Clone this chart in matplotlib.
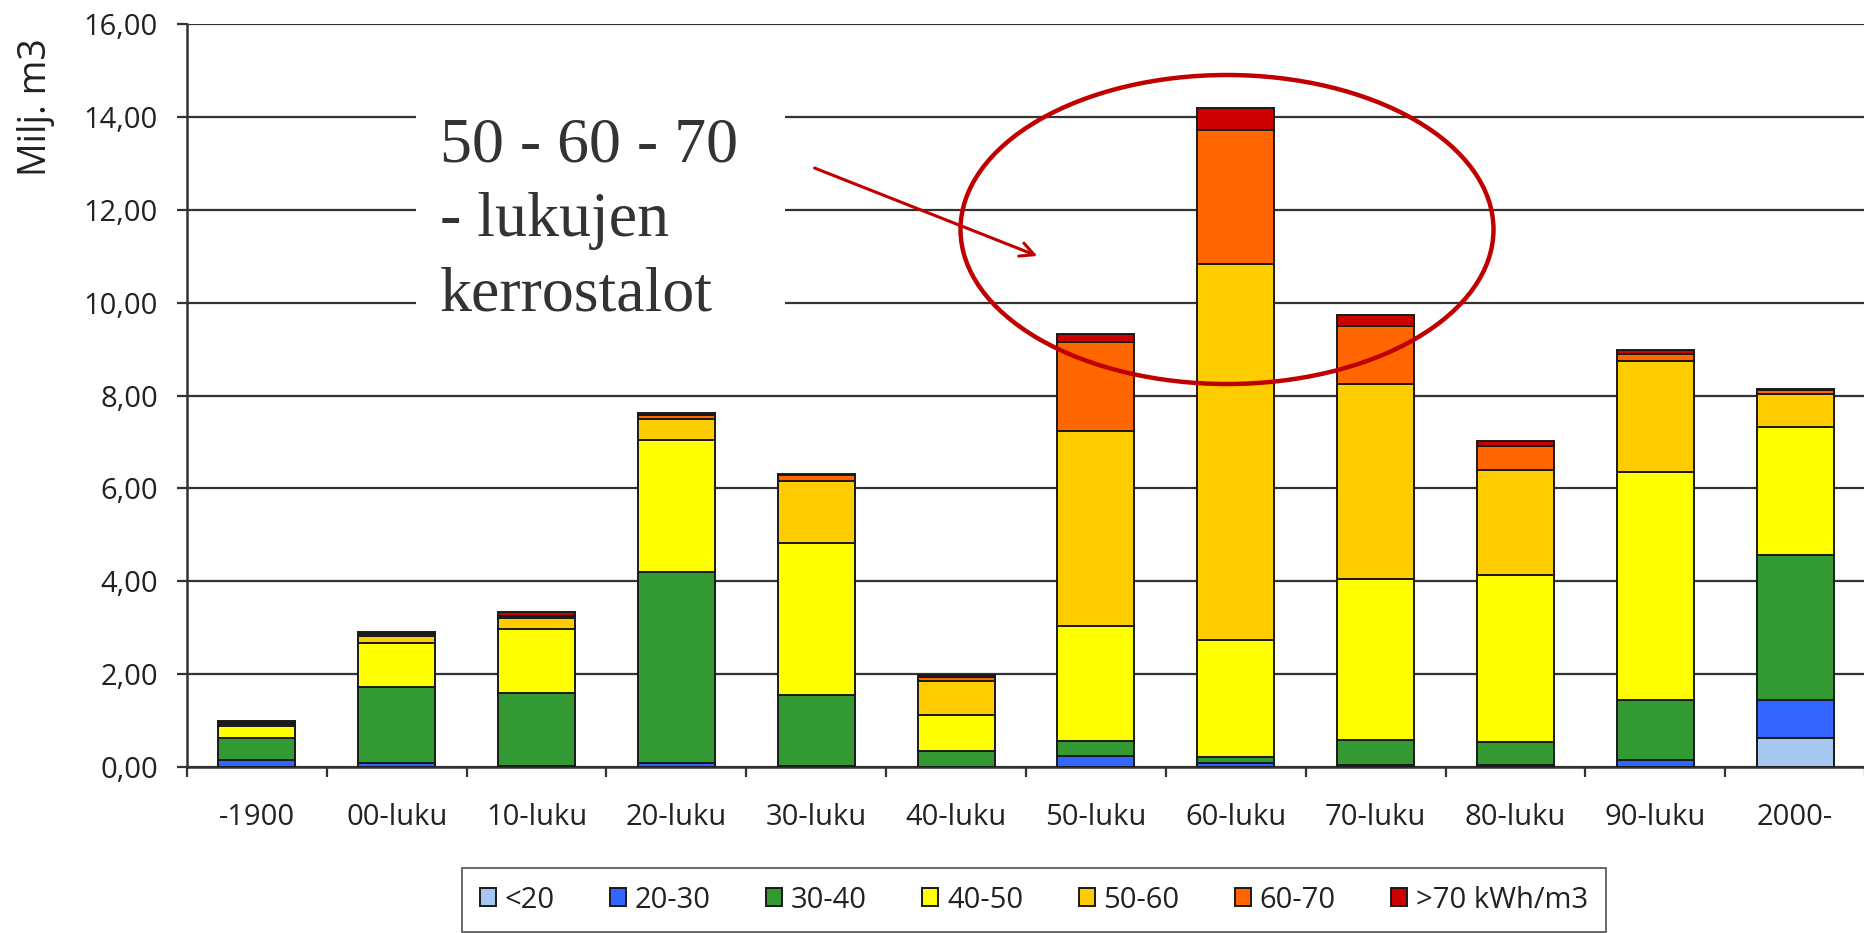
import matplotlib
matplotlib.use("Agg")
import matplotlib.pyplot as plt
import numpy as np
from matplotlib.patches import Ellipse, Rectangle
from matplotlib.ticker import FuncFormatter, FixedLocator

plt.rcParams['font.family'] = ['Open Sans', 'DejaVu Sans']

categories = ['-1900', '00-luku', '10-luku', '20-luku', '30-luku', '40-luku',
              '50-luku', '60-luku', '70-luku', '80-luku', '90-luku', '2000-']
series_labels = ['<20', '20-30', '30-40', '40-50', '50-60', '60-70', '>70 kWh/m3']
lt20   = [0, 0, 0, 0, 0, 0, 0, 0, 0, 0, 0, 0.62]
s20_30 = [0.14, 0.09, 0.03, 0.09, 0.03, 0.01, 0.24, 0.09, 0.04, 0.04, 0.15, 0.82]
s30_40 = [0.48, 1.64, 1.56, 4.11, 1.52, 0.33, 0.31, 0.13, 0.54, 0.50, 1.29, 3.13]
s40_50 = [0.26, 0.95, 1.39, 2.84, 3.27, 0.77, 2.48, 2.52, 3.47, 3.60, 4.91, 2.75]
s50_60 = [0.05, 0.15, 0.22, 0.46, 1.34, 0.75, 4.20, 8.09, 4.20, 2.26, 2.39, 0.72]
s60_70 = [0.02, 0.04, 0.06, 0.07, 0.12, 0.08, 1.92, 2.88, 1.24, 0.52, 0.16, 0.07]
gt70   = [0.03, 0.03, 0.07, 0.05, 0.04, 0.05, 0.18, 0.49, 0.24, 0.11, 0.07, 0.04]
colors = ['#a6c8f0', '#3366ff', '#339933', '#ffff00', '#ffcc00', '#ff6600', '#cc0000']
annotation = "50 - 60 - 70\n- lukujen\nkerrostalot"

W, H = 1865, 933
fig = plt.figure(figsize=(W / 100, H / 100), dpi=100)
fig.patch.set_facecolor('white')
ax = fig.add_axes([187 / W, 1 - 767 / H, 1 - 187 / W, (767 - 24) / H])

x = np.arange(len(categories))
bottom = np.zeros(len(categories))
handles = []
for vals, col, lab in zip([lt20, s20_30, s30_40, s40_50, s50_60, s60_70, gt70], colors, series_labels):
    v = np.array(vals)
    b = ax.bar(x, v, width=0.55, bottom=bottom, color=col, edgecolor='#1a1a1a',
               linewidth=1.4, label=lab, zorder=3)
    handles.append(b)
    bottom += v

ax.set_xlim(-0.5, len(categories) - 0.5)
ax.set_ylim(0, 16)
ax.set_yticks(np.arange(0, 17, 2))
ax.yaxis.set_major_formatter(FuncFormatter(lambda v, p: f"{v:.2f}".replace('.', ',')))
ax.yaxis.grid(True, color='#333333', linewidth=1.6, zorder=0)
ax.set_axisbelow(True)

ax.set_xticks(x)
ax.set_xticklabels(categories)
ax.xaxis.set_minor_locator(FixedLocator(np.arange(-0.5, len(categories) - 0.4, 1.0)))
ax.tick_params(axis='x', which='major', length=0, pad=26, labelsize=21, labelcolor='#222222')
ax.tick_params(axis='x', which='minor', length=7, width=1.6, color='#333333', direction='out')
ax.tick_params(axis='y', which='major', length=7, width=1.6, color='#333333', pad=14,
               labelsize=21, labelcolor='#222222')

for s in ['top', 'right']:
    ax.spines[s].set_visible(False)
for s in ['left', 'bottom']:
    ax.spines[s].set_color('#333333')
    ax.spines[s].set_linewidth(1.8)

fig.text(36 / W, 1 - 107 / H, 'Milj. m3', rotation=90, ha='center', va='center',
         fontsize=27, color='#222222')

# white box behind annotation text
fig.add_artist(Rectangle((416 / W, 1 - 330 / H), (785 - 416) / W, (330 - 95) / H,
                         transform=fig.transFigure, facecolor='white', edgecolor='none', zorder=2))
fig.text(440 / W, 1 - 117 / H, annotation, ha='left', va='top', fontsize=46,
         family='Liberation Serif', color='#333333', linespacing=1.38, zorder=4)

fig.add_artist(Ellipse((1227 / W, 1 - 229.5 / H), 533 / W, 309 / H, transform=fig.transFigure,
                       facecolor='none', edgecolor='#c00000', linewidth=3.2, zorder=5))
ax.annotate('', xy=(1040 / W, 1 - 257 / H), xytext=(812 / W, 1 - 167 / H),
            xycoords='figure fraction', textcoords='figure fraction',
            arrowprops=dict(arrowstyle='->,head_length=1.0,head_width=0.5',
                            color='#c00000', lw=2.2), zorder=6)

leg = fig.legend(handles=handles, labels=series_labels, loc='upper center',
                 bbox_to_anchor=(1034 / W, 1 - 868 / H), ncol=7, frameon=True,
                 fontsize=21, handlelength=0.55, handleheight=0.55, handletextpad=0.3,
                 columnspacing=1.9, borderpad=0.6, borderaxespad=0, fancybox=False)
leg.get_frame().set_edgecolor('#222222')
leg.get_frame().set_linewidth(1.2)
for t in leg.get_texts():
    t.set_color('#222222')

fig.savefig('out.png', dpi=100)
